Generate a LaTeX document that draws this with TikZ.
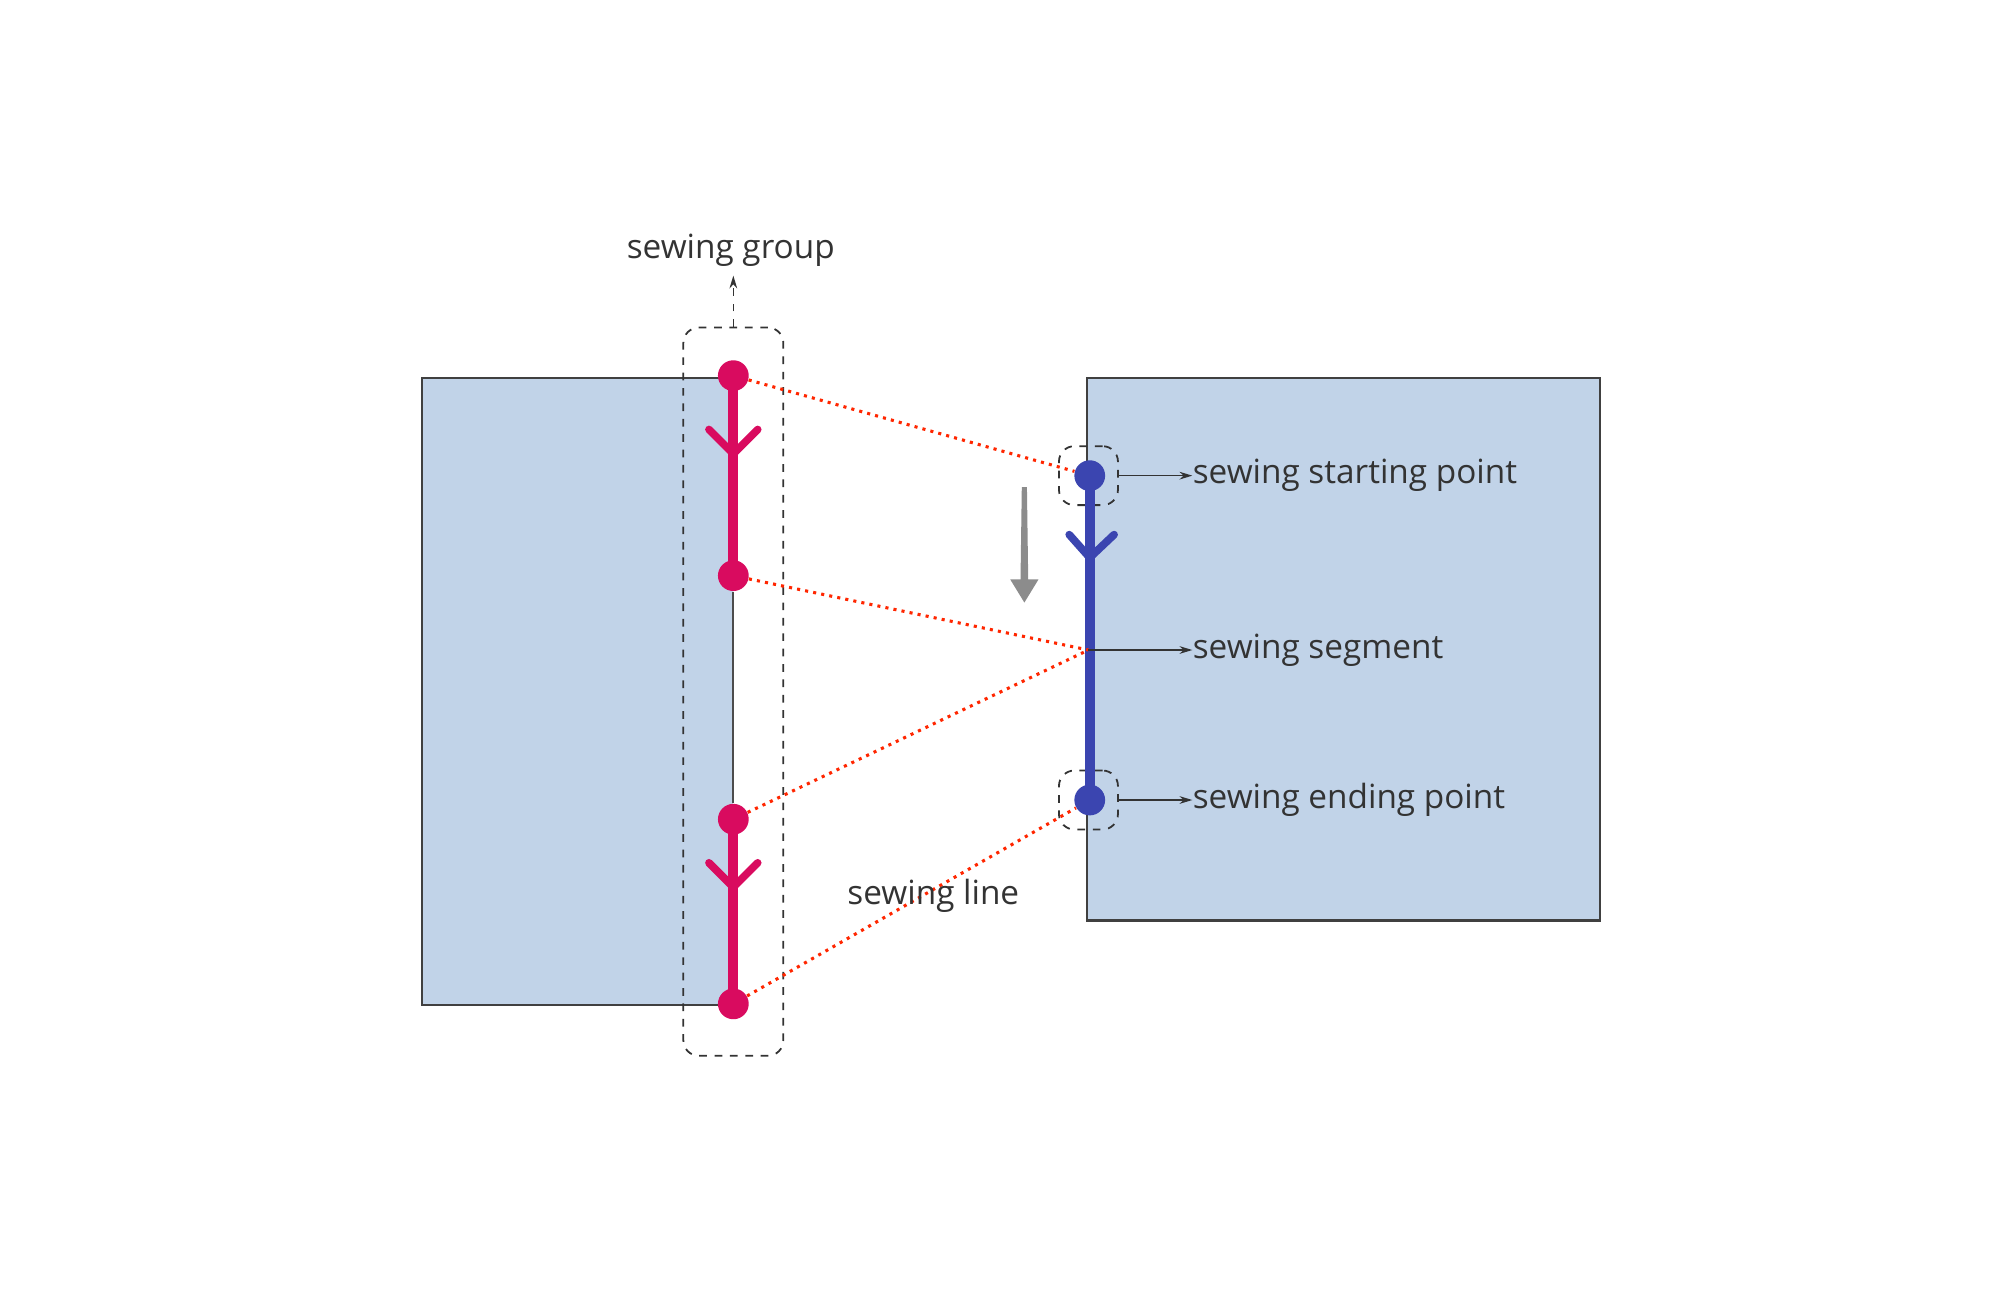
\documentclass[tikz,border=0pt]{standalone}
\usepackage{fontspec}
\setmainfont{Open Sans}
\usetikzlibrary{arrows.meta}
\begin{document}
\begin{tikzpicture}[x=0.5pt,y=-0.5pt,
  panel/.style={draw=black!75,fill=blue!20!gray!30!cyan!15,line width=0.8pt},
  grp/.style={draw=black!80,dashed,line width=0.7pt,rounded corners=6pt},
  pdot/.style={circle,fill=magenta!90!red,inner sep=0pt,minimum size=12pt},
  bdot/.style={circle,fill=blue!60!black!80,inner sep=0pt,minimum size=12pt},
  lbl/.style={font=\fontsize{13}{15}\selectfont,text=black!80,inner sep=0pt},
  red dots/.style={draw=red!70!orange,dotted,line width=1.2pt},
  ptr/.style={draw=black!80,line width=0.5pt,-{Stealth[length=5pt,width=3pt]}}]
\useasboundingbox (0,0) rectangle (1560,1013);
\definecolor{pnl}{HTML}{C1D3E8}
\definecolor{pk}{HTML}{D90B5F}
\definecolor{bl}{HTML}{3B45B0}
\fill[pnl] (329,295) rectangle (572,784);
\draw[black!75,line width=0.8pt] (572,295) -- (329,295) -- (329,784) -- (572,784);
\fill[pnl,draw=black!75,line width=0.8pt] (848,295) rectangle (1248,718);
\node[grp,minimum width=39pt,minimum height=284pt] (g) at (572,539.5) {};
\node[grp,minimum width=23pt,minimum height=23pt] (sb) at (849,371) {};
\node[grp,minimum width=23pt,minimum height=23pt] (eb) at (849,624) {};
\node[fill=pk,circle,inner sep=0pt,minimum size=12pt] (p1) at (572,293) {};
\node[fill=pk,circle,inner sep=0pt,minimum size=12pt] (p2) at (572,449) {};
\node[fill=pk,circle,inner sep=0pt,minimum size=12pt] (p3) at (572,639) {};
\node[fill=pk,circle,inner sep=0pt,minimum size=12pt] (p4) at (572,783) {};
\node[fill=bl,circle,inner sep=0pt,minimum size=12pt] (b1) at (850,371) {};
\node[fill=bl,circle,inner sep=0pt,minimum size=12pt] (b2) at (850,624) {};
\coordinate (seg) at (849,507);
\draw[pk,line width=4pt] (p1.center) -- (p2.center);
\draw[pk,line width=4pt] (p3.center) -- (p4.center);
\draw[black!70,line width=0.8pt] (p2) -- (p3);
\draw[pk,line width=3pt,line cap=round,line join=round] (553,335) -- (572,354) -- (591,335);
\draw[pk,line width=3pt,line cap=round,line join=round] (553,673) -- (572,692) -- (591,673);
\draw[bl,line width=4pt] (b1.center) -- (b2.center);
\draw[bl,line width=3pt,line cap=round,line join=round] (834,417) -- (850,435) -- (869,417);
\fill[gray!90] (797,380) -- (801,380) -- (802,452) -- (810,452) -- (799,470) -- (788,452) -- (796,452) -- cycle;
\draw[red dots] (p1) -- (b1);
\draw[red dots] (p2) -- (seg);
\draw[red dots] (p3) -- (seg);
\draw[red dots] (p4) -- (b2);
\node[lbl,anchor=west] (ls) at (930,371) {sewing starting point};
\node[lbl,anchor=west] (lg) at (930,507) {sewing segment};
\node[lbl,anchor=west] (le) at (930,624) {sewing ending point};
\node[lbl] (ll) at (728,699) {sewing line};
\node[lbl] (lgr) at (570,195) {sewing group};
\draw[ptr] (sb.east) -- (ls.west);
\draw[ptr] (seg) -- (lg.west);
\draw[ptr] (eb.east) -- (le.west);
\draw[ptr,dashed] (g.north) -- (572,215);
\end{tikzpicture}
\end{document}
